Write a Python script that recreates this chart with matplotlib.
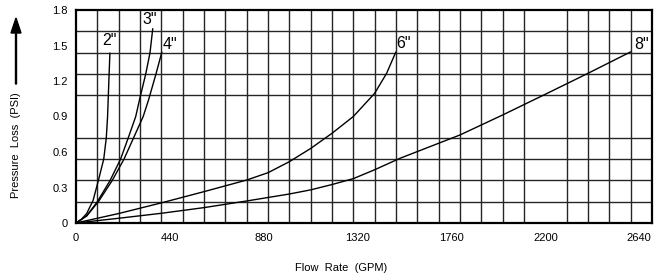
import numpy as np
import matplotlib
matplotlib.use('Agg')
import matplotlib.pyplot as plt
from matplotlib.ticker import MultipleLocator

plt.rcParams['font.family'] = ['Liberation Sans', 'DejaVu Sans']

# flow (GPM) vs pressure loss (PSI) per pipe size
gpm_2 = [0, 25, 50, 80, 105, 130, 142, 148, 154, 159]
psi_2 = [0, 0.03, 0.08, 0.19, 0.36, 0.54, 0.72, 0.90, 1.20, 1.44]

gpm_3 = [0, 50, 100, 160, 209, 245, 280, 300, 327, 347, 360]
psi_3 = [0, 0.06, 0.18, 0.36, 0.54, 0.72, 0.90, 1.06, 1.26, 1.44, 1.646]

gpm_4 = [0, 50, 105, 170, 225, 270, 315, 340, 375, 403]
psi_4 = [0, 0.06, 0.18, 0.36, 0.54, 0.72, 0.90, 1.04, 1.26, 1.448]

gpm_6 = [0, 200, 400, 600, 800, 900, 1000, 1100, 1200, 1300, 1400, 1456, 1500]
psi_6 = [0, 0.08, 0.17, 0.265, 0.363, 0.425, 0.518, 0.63, 0.758, 0.90, 1.096, 1.265, 1.448]

gpm_8 = [0, 200, 400, 600, 800, 1000, 1100, 1200, 1300, 1400, 1519, 1800, 2000, 2200, 2400, 2602]
psi_8 = [0, 0.04, 0.082, 0.13, 0.186, 0.245, 0.28, 0.325, 0.375, 0.45, 0.547, 0.744, 0.913, 1.088, 1.265, 1.448]

sizes = ['2"', '3"', '4"', '6"', '8"']
series = [(gpm_2, psi_2), (gpm_3, psi_3), (gpm_4, psi_4), (gpm_6, psi_6), (gpm_8, psi_8)]
# label offset from curve end, in pixels
label_offsets = [(-8, 5), (-10, 1), (1, 0), (0, 1), (3, 0)]

x_ticks = [0, 440, 880, 1320, 1760, 2200, 2640]
y_ticks = [0, 0.3, 0.6, 0.9, 1.2, 1.5, 1.8]

fig = plt.figure(figsize=(6.6, 2.78), dpi=100)
ax = fig.add_axes([76 / 660, 55 / 278, 576 / 660, 213 / 278])

ax.set_xlim(0, 2700)
ax.set_ylim(0, 1.8)
ax.xaxis.set_minor_locator(MultipleLocator(100))
ax.yaxis.set_minor_locator(MultipleLocator(0.18))
ax.set_xticks(x_ticks)
ax.set_xticklabels([str(t) for t in x_ticks])
ax.set_yticks(y_ticks)
ax.set_yticklabels(['0', '0.3', '0.6', '0.9', '1.2', '1.5', '1.8'])
ax.tick_params(which='both', length=0)
ax.tick_params(axis='x', pad=7, labelsize=8)
ax.tick_params(axis='y', pad=6, labelsize=8)
ax.grid(which='minor', color='0.15', linewidth=1.0)
ax.grid(which='major', visible=False)
ax.set_axisbelow(True)
for sp in ax.spines.values():
    sp.set_linewidth(1.6)
    sp.set_color('black')

for (x, y), name, off in zip(series, sizes, label_offsets):
    ax.plot(x, y, color='black', linewidth=1.0, solid_capstyle='butt',
            solid_joinstyle='round')
    ax.annotate(name, (x[-1], y[-1]), xytext=off, textcoords='offset pixels',
                ha='left', va='bottom', fontsize=11.5)

fig.text(341 / 660, 1 - 268 / 278, 'Flow  Rate  (GPM)', ha='center', va='center', fontsize=8)
fig.text(16 / 660, 1 - 145 / 278, 'Pressure  Loss  (PSI)', ha='center', va='center',
         rotation=90, fontsize=8)
fig.patches.append(matplotlib.patches.FancyArrow(
    16 / 660, 1 - 84 / 278, 0, 66 / 278, width=0.0015, head_width=10 / 660,
    head_length=15 / 278, length_includes_head=True, color='black',
    transform=fig.transFigure, figure=fig))

fig.savefig('out.png', dpi=100)
